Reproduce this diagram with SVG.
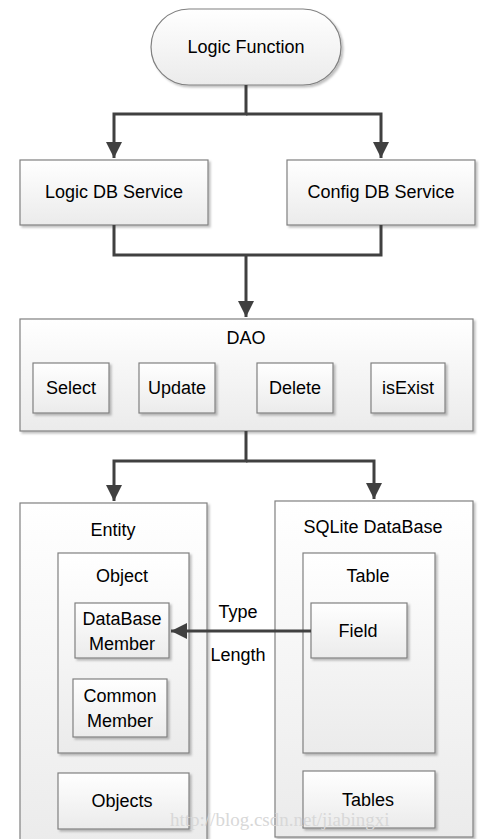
<svg xmlns="http://www.w3.org/2000/svg" width="481" height="839" viewBox="0 0 481 839">
<defs>
<linearGradient id="g" x1="0" y1="0" x2="0" y2="1">
<stop offset="0" stop-color="#ffffff"/>
<stop offset="1" stop-color="#ebebeb"/>
</linearGradient>
<filter id="sh" x="-10%" y="-10%" width="130%" height="130%">
<feDropShadow dx="2" dy="2" stdDeviation="1" flood-color="#000" flood-opacity="0.25"/>
</filter>
<marker id="ah" markerWidth="16" markerHeight="16" refX="16" refY="8" orient="auto" markerUnits="userSpaceOnUse">
<path d="M0,0 L16,8 L0,16 Z" fill="#404040"/>
</marker>
</defs>
<style>
.b{fill:url(#g);stroke:#808080;stroke-width:1.2;filter:url(#sh)}
.t{font-family:"Liberation Sans",Arial,sans-serif;font-size:18px;fill:#000;text-anchor:middle}
.c{fill:none;stroke:#404040;stroke-width:3}
.wm{font-family:"Liberation Serif",serif;font-size:19px;fill:#d8d8d8;text-anchor:start}
</style>
<g id="logic-function">
<rect class="b" x="151" y="9" width="190" height="76" rx="38" ry="38"/>
<text class="t" x="246" y="53">Logic Function</text>
</g>
<g id="logic-db-service">
<rect class="b" x="20" y="160" width="188" height="65"/>
<text class="t" x="114" y="198">Logic DB Service</text>
</g>
<g id="config-db-service">
<rect class="b" x="287" y="160" width="188" height="65"/>
<text class="t" x="381" y="198">Config DB Service</text>
</g>
<g id="dao">
<rect class="b" x="20" y="319" width="453" height="112"/>
<text class="t" x="246" y="344">DAO</text>
</g>
<g id="select">
<rect class="b" x="33" y="363" width="76" height="50"/>
<text class="t" x="71" y="394">Select</text>
</g>
<g id="update">
<rect class="b" x="139" y="363" width="76" height="50"/>
<text class="t" x="177" y="394">Update</text>
</g>
<g id="delete">
<rect class="b" x="257" y="363" width="76" height="50"/>
<text class="t" x="295" y="394">Delete</text>
</g>
<g id="isexist">
<rect class="b" x="371" y="363" width="74" height="50"/>
<text class="t" x="408" y="394">isExist</text>
</g>
<g id="entity">
<rect class="b" x="20" y="503" width="187" height="345"/>
<text class="t" x="113" y="536">Entity</text>
</g>
<g id="object">
<rect class="b" x="58" y="553" width="131" height="200"/>
<text class="t" x="122" y="582">Object</text>
</g>
<g id="database-member">
<rect class="b" x="75" y="603" width="94" height="55"/>
<text class="t" x="122" y="625">DataBase</text>
<text class="t" x="122" y="650">Member</text>
</g>
<g id="common-member">
<rect class="b" x="73" y="679" width="94" height="58"/>
<text class="t" x="120" y="702">Common</text>
<text class="t" x="120" y="727">Member</text>
</g>
<g id="objects">
<rect class="b" x="58" y="773" width="131" height="56"/>
<text class="t" x="122" y="807">Objects</text>
</g>
<g id="sqlite-database">
<rect class="b" x="275" y="501" width="198" height="336"/>
<text class="t" x="373" y="533">SQLite DataBase</text>
</g>
<g id="table">
<rect class="b" x="303" y="553" width="132" height="200"/>
<text class="t" x="368" y="582">Table</text>
</g>
<g id="field">
<rect class="b" x="311" y="603" width="96" height="55"/>
<text class="t" x="358" y="637">Field</text>
</g>
<g id="tables">
<rect class="b" x="303" y="771" width="132" height="57"/>
<text class="t" x="368" y="806">Tables</text>
</g>
<g id="connectors">
<path class="c" d="M246,85 V114 H114 V158" marker-end="url(#ah)"/>
<path class="c" d="M246,114 H381 V158" marker-end="url(#ah)"/>
<path class="c" d="M114,225 V255 H381 V225"/>
<path class="c" d="M246,255 V317" marker-end="url(#ah)"/>
<path class="c" d="M246,431 V461 H114 V501" marker-end="url(#ah)"/>
<path class="c" d="M246,461 H374 V499" marker-end="url(#ah)"/>
<path class="c" d="M311,631 H171" marker-end="url(#ah)"/>
<text class="t" x="238" y="618">Type</text>
<text class="t" x="238" y="661">Length</text>
</g>
<text class="wm" x="170" y="826">http://blog.csdn.net/jiabingxi</text>
</svg>
